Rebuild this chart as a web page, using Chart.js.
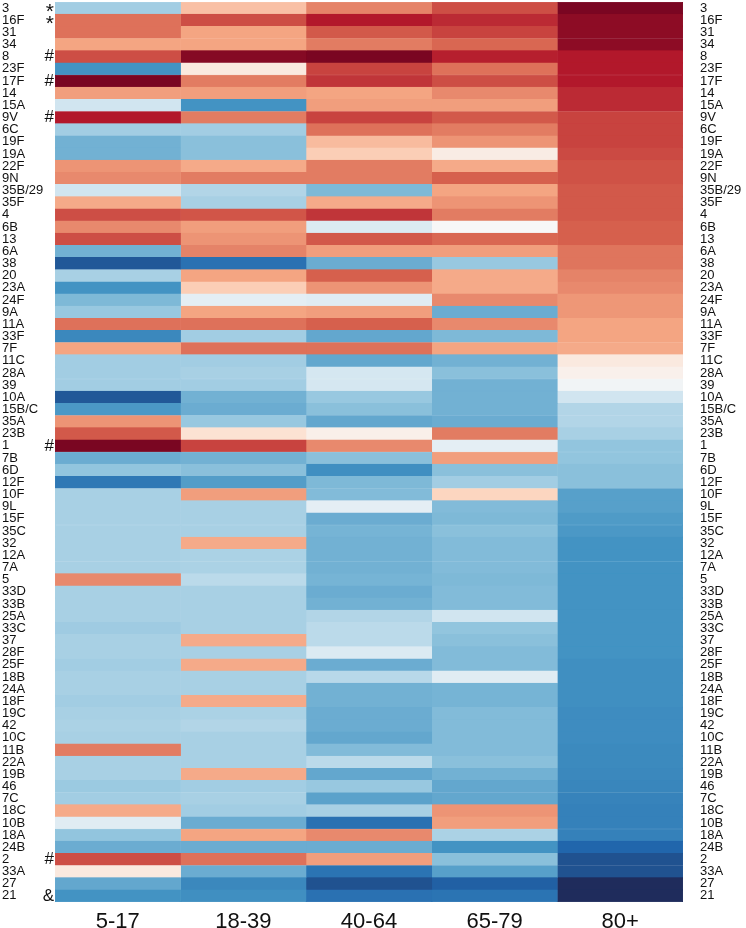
<!DOCTYPE html>
<html>
<head>
<meta charset="utf-8">
<script src="https://cdn.jsdelivr.net/npm/chart.js@4"></script>
<style>
  body { margin: 0; background: #fff; }
  #wrap { width: 746px; height: 928px; }
</style>
</head>
<body>
<div id="wrap"><canvas id="heat"></canvas></div>
<script>
// Serotypes, top to bottom
const serotypes = ['3', '16F', '31', '34', '8', '23F', '17F', '14', '15A', '9V', '6C', '19F', '19A', '22F', '9N',
    '35B/29', '35F', '4', '6B', '13', '6A', '38', '20', '23A', '24F', '9A', '11A', '33F', '7F', '11C', '28A', '39',
    '10A', '15B/C', '35A', '23B', '1', '7B', '6D', '12F', '10F', '9L', '15F', '35C', '32', '12A', '7A', '5', '33D',
    '33B', '25A', '33C', '37', '28F', '25F', '18B', '24A', '18F', '19C', '42', '10C', '11B', '22A', '19B', '46', '7C',
    '18C', '10B', '18A', '24B', '2', '33A', '27', '21'];

// Marks next to the left labels
const markers = ['*', '*', '', '', '#', '', '#', '', '', '#', '', '', '', '', '',
    '', '', '', '', '', '', '', '', '', '', '', '', '', '', '', '', '',
    '', '', '', '', '#', '', '', '', '', '', '', '', '', '', '', '', '',
    '', '', '', '', '', '', '', '', '', '', '', '', '', '', '', '', '',
    '', '', '', '', '#', '', '', '&'];

const ageGroups = ['5-17', '18-39', '40-64', '65-79', '80+'];

// Relative values per age group (-1 = deep blue, +1 = deep red)
const age5to17 = [-0.35, 0.55, 0.55, 0.4, 0.65, -0.6, 0.95, 0.42, -0.2, 0.8, -0.35, -0.48, -0.48, 0.45, 0.48,
    -0.2, 0.38, 0.65, 0.48, 0.65, -0.48, -0.85, -0.33, -0.6, -0.45, -0.38, 0.55, -0.65, 0.4, -0.35, -0.35, -0.35,
    -0.85, -0.58, 0.45, 0.62, 0.95, -0.5, -0.4, -0.72, -0.33, -0.33, -0.33, -0.33, -0.33, -0.33, -0.33, 0.48, -0.33,
    -0.33, -0.33, -0.36, -0.33, -0.33, -0.35, -0.33, -0.33, -0.35, -0.33, -0.32, -0.33, 0.52, -0.33, -0.33, -0.37, -0.35,
    0.38, -0.12, -0.4, -0.5, 0.65, 0.1, -0.52, -0.6];
const age18to39 = [0.3, 0.65, 0.4, 0.4, 0.92, 0.1, 0.52, 0.42, -0.6, 0.52, -0.35, -0.42, -0.42, 0.38, 0.52,
    -0.3, -0.33, 0.63, 0.42, 0.45, 0.5, -0.75, 0.4, 0.25, -0.1, 0.4, 0.55, -0.35, 0.55, -0.35, -0.33, -0.35,
    -0.48, -0.5, -0.38, 0.15, 0.68, -0.48, -0.42, -0.56, 0.42, -0.33, -0.33, -0.33, 0.38, -0.32, -0.32, -0.27, -0.33,
    -0.33, -0.33, -0.33, 0.38, -0.33, 0.38, -0.33, -0.33, 0.38, -0.32, -0.3, -0.33, -0.33, -0.33, 0.38, -0.35, -0.33,
    -0.35, -0.5, 0.4, -0.5, 0.55, -0.5, -0.65, -0.62];
const age40to64 = [0.5, 0.8, 0.62, 0.52, 0.95, 0.68, 0.72, 0.4, 0.42, 0.68, 0.55, 0.32, 0.25, 0.52, 0.52,
    -0.45, 0.38, 0.72, -0.15, 0.62, 0.42, -0.5, 0.6, 0.45, -0.12, 0.42, 0.6, -0.52, 0.55, -0.52, -0.18, -0.18,
    -0.38, -0.42, -0.52, 0.06, 0.48, -0.42, -0.62, -0.45, -0.44, -0.1, -0.5, -0.47, -0.48, -0.48, -0.48, -0.47, -0.5,
    -0.48, -0.3, -0.27, -0.27, -0.15, -0.5, -0.28, -0.48, -0.48, -0.5, -0.5, -0.52, -0.44, -0.27, -0.52, -0.38, -0.54,
    -0.33, -0.75, 0.48, -0.5, 0.42, -0.74, -0.87, -0.75];
const age65to79 = [0.65, 0.75, 0.68, 0.58, 0.78, 0.55, 0.65, 0.48, 0.42, 0.62, 0.52, 0.45, 0.08, 0.38, 0.6,
    0.4, 0.45, 0.52, 0.0, 0.58, 0.42, -0.38, 0.38, 0.38, 0.48, -0.5, 0.48, -0.45, 0.4, -0.48, -0.42, -0.48,
    -0.48, -0.48, -0.5, 0.52, -0.1, 0.42, -0.42, -0.35, 0.22, -0.44, -0.45, -0.42, -0.44, -0.44, -0.44, -0.45, -0.44,
    -0.44, -0.2, -0.4, -0.42, -0.44, -0.44, -0.12, -0.47, -0.47, -0.44, -0.44, -0.44, -0.44, -0.42, -0.48, -0.52, -0.52,
    0.45, 0.42, -0.32, -0.6, -0.42, -0.55, -0.82, -0.74];
const age80plus = [0.95, 0.9, 0.9, 0.9, 0.8, 0.8, 0.8, 0.75, 0.75, 0.68, 0.68, 0.68, 0.66, 0.64, 0.64,
    0.62, 0.62, 0.62, 0.6, 0.6, 0.54, 0.54, 0.5, 0.48, 0.44, 0.44, 0.4, 0.4, 0.38, 0.1, 0.05, -0.03,
    -0.2, -0.3, -0.3, -0.33, -0.4, -0.4, -0.42, -0.42, -0.55, -0.55, -0.57, -0.58, -0.6, -0.6, -0.6, -0.6, -0.6,
    -0.6, -0.6, -0.6, -0.6, -0.6, -0.62, -0.62, -0.62, -0.62, -0.63, -0.63, -0.63, -0.64, -0.64, -0.65, -0.66, -0.67,
    -0.68, -0.68, -0.68, -0.8, -0.87, -0.87, -1, -1];

const columns = [age5to17, age18to39, age40to64, age65to79, age80plus];

// RdBu-like colour ramp (navy end as in the figure)
const rdbu = ['#1f2c5c', '#2166ac', '#4393c3', '#92c5de', '#d1e5f0', '#f7f7f7',
    '#fddbc7', '#f4a582', '#d6604d', '#b2182b', '#67001f'];

function hexToRgb(h) {
    return [parseInt(h.slice(1, 3), 16), parseInt(h.slice(3, 5), 16), parseInt(h.slice(5, 7), 16)];
}

function colourFor(v) {
    const t = Math.max(0, Math.min(1, (v + 1) / 2)) * (rdbu.length - 1);
    const i = Math.min(rdbu.length - 2, Math.floor(t));
    const f = t - i;
    const a = hexToRgb(rdbu[i]);
    const b = hexToRgb(rdbu[i + 1]);
    const c = a.map((x, k) => Math.round(x + (b[k] - x) * f));
    return `rgb(${c[0]},${c[1]},${c[2]})`;
}

const family = "'Liberation Sans', Arial, sans-serif";

// no extra label padding around the plot, keeps cells edge to edge
function fixWidth(w) {
    return (s) => { s.width = w; s.paddingTop = 0; s.paddingBottom = 0; };
}

// One stacked dataset per age group, each cell one unit wide
const datasets = columns.map((col, k) => {
    const colours = col.map(colourFor);
    return {
        label: ageGroups[k],
        data: col.map(() => 1),
        backgroundColor: colours,
        borderColor: colours,
        borderWidth: 0.5,
        borderSkipped: false,
        barPercentage: 1,
        categoryPercentage: 1,
        xAxisID: 'x',
        yAxisID: 'y'
    };
});

new Chart(document.getElementById('heat'), {
    type: 'bar',
    data: { labels: serotypes, datasets: datasets },
    options: {
        indexAxis: 'y',
        responsive: true,
        maintainAspectRatio: false,
        animation: false,
        layout: { padding: { left: 2, top: 2, right: 0, bottom: 0 } },
        plugins: { legend: { display: false }, tooltip: { enabled: false } },
        scales: {
            x: {
                type: 'linear', stacked: true, min: 0, max: 5, display: false
            },
            xc: {
                type: 'category', position: 'bottom', labels: ageGroups, offset: true,
                grid: { display: false, drawTicks: false }, border: { display: false },
                ticks: { color: '#111', font: { family: family, size: 22 }, padding: 7 },
                afterFit: (s) => { s.height = 26; s.paddingLeft = 0; s.paddingRight = 0; }
            },
            y: {
                type: 'category', stacked: true, position: 'left', weight: 1, offset: true,
                grid: { display: false, drawTicks: false }, border: { display: false },
                ticks: {
                    autoSkip: false, color: '#111', padding: 1,
                    // the asterisk sits high in the font, push it down a little
                    font: (ctx) => markers[ctx.index] === '*'
                        ? { family: family, size: 21, lineHeight: 0.4 }
                        : { family: family, size: 17 },
                    callback: (v, i) => markers[i] === '*' ? ['', '*'] : markers[i]
                },
                afterFit: fixWidth(12)
            },
            yLab: {
                type: 'category', position: 'left', weight: 2, labels: serotypes, offset: true,
                grid: { display: false, drawTicks: false }, border: { display: false },
                ticks: { autoSkip: false, color: '#111', padding: 0, crossAlign: 'far', font: { family: family, size: 13 } },
                afterFit: fixWidth(41)
            },
            yR: {
                type: 'category', position: 'right', labels: serotypes, offset: true,
                grid: { display: false, drawTicks: false }, border: { display: false },
                ticks: { autoSkip: false, color: '#111', padding: 17, font: { family: family, size: 13 } },
                afterFit: fixWidth(63)
            }
        }
    }
});
</script>
</body>
</html>
